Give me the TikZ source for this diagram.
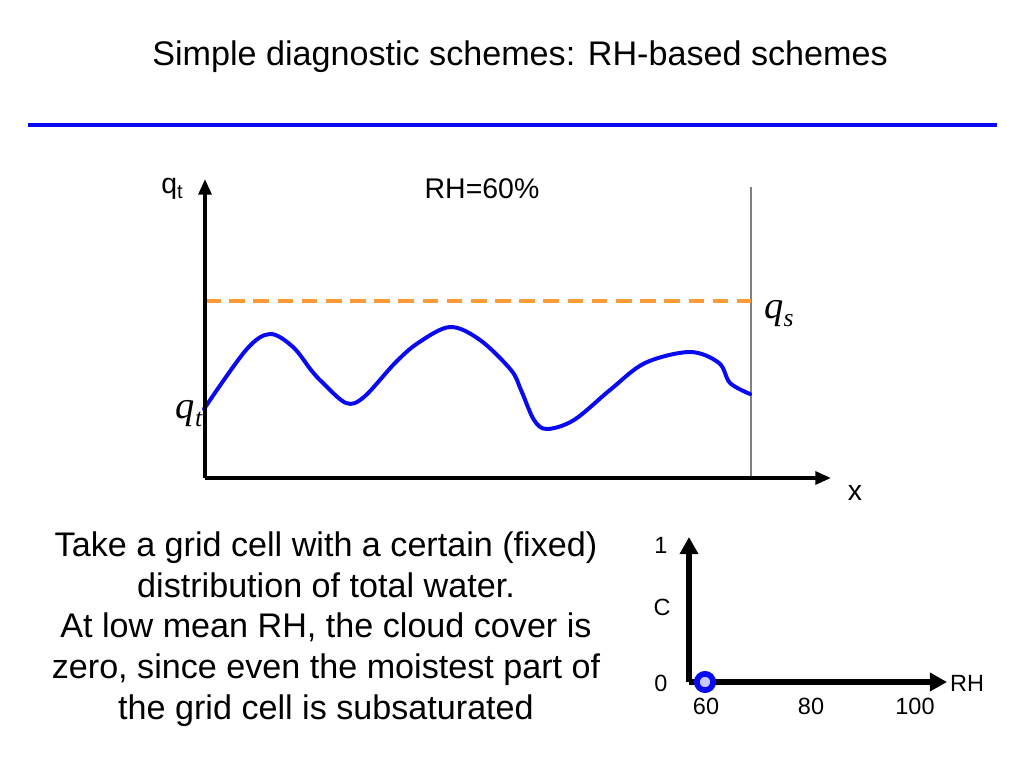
\documentclass[tikz,border=0pt]{standalone}
\usepackage{fontspec}
\setmainfont{Liberation Sans}
\newfontfamily\qfont{Liberation Serif}
\usetikzlibrary{arrows.meta}
\definecolor{slideblue}{RGB}{10,10,240}
\definecolor{satorange}{RGB}{250,155,55}
\definecolor{dotfill}{RGB}{200,200,250}

\begin{document}
\begin{tikzpicture}
        [
            x=0.703125pt, y=-0.703125pt,
            axis/.style={line width=2.5pt, -{Triangle[length=11pt, width=9pt]}},
            small axis/.style={line width=3.6pt, -{Triangle[length=12pt, width=12.5pt]}},
            label/.style={inner sep=0pt, font=\fontsize{20}{24}\selectfont},
            ticklabel/.style={inner sep=0pt, font=\fontsize{16.5}{19}\selectfont},
            qlabel/.style={inner sep=0pt, font=\fontsize{27}{32}\qfont\itshape},
        ]
        \useasboundingbox (0,0) rectangle (1024,768);
        % title and rule
        \node[font=\fontsize{24}{29}\selectfont] (title) at (520,57) {Simple diagnostic schemes: RH-based schemes};
        \coordinate (rule west) at (28,125);
        \coordinate (rule east) at (997,125);
        \draw[line width=2.9pt, slideblue] (rule west) -- (rule east);
        % distribution of total water
        \coordinate (origin) at (205,478);
        \coordinate (qt tip) at (205,179);
        \coordinate (x tip) at (831,478);
        \coordinate (edge top) at (751,187);
        \coordinate (edge bottom) at (751,478);
        \coordinate (qs west) at (205,301);
        \coordinate (qs east) at (751,301);
        \draw[gray, line width=0.8pt] (edge top) -- (edge bottom);
        \draw[satorange, line width=2.4pt, dash pattern=on 11pt off 6pt] (qs west) -- (qs east);
        \draw[slideblue, line width=2.8pt, line cap=round] plot[smooth, tension=0.55] coordinates {
            (204,409) (246,350) (270,334) (293,347) (311,370) (322,382)
            (346,403) (364,397) (395,363) (418,343) (450,327) (480,340)
            (511,370) (521,390) (534,420) (547,429) (574,420) (610,390)
            (645,363) (690,352) (719,363) (730,383) (750,394)
        };
        \draw[axis] (origin) -- (qt tip);
        \draw[axis] (origin) -- (x tip);
        \node[label] (qt axis) at (172,189) {q\raisebox{-0.35ex}{\fontsize{14}{16}\selectfont t}};
        \node[label] (rh) at (482,189) {RH=60\%};
        \node[label] (x label) at (855,493) {x};
        \node[qlabel] (qs) at (779,314) {q\raisebox{-0.4ex}{\fontsize{18}{20}\selectfont s}};
        \node[qlabel] (qt) at (189,414) {q\raisebox{-0.4ex}{\fontsize{18}{20}\selectfont t}};
        % explanation
        \node[align=center, inner sep=0pt, font=\fontsize{24}{28.6}\selectfont] (text) at (326,629)
            {Take a grid cell with a certain (fixed)\\
             distribution of total water.\\
             At low mean RH, the cloud cover is\\
             zero, since even the moistest part of\\
             the grid cell is subsaturated};
        % cloud cover against RH
        \coordinate (c origin) at (689,682);
        \coordinate (c tip) at (689,537);
        \coordinate (rh tip) at (947,682);
        \draw[small axis] (c origin) -- (c tip);
        \draw[small axis] (c origin) -- (rh tip);
        \node[ticklabel] (one) at (661,545) {1};
        \node[ticklabel] (c label) at (662,607) {C};
        \node[ticklabel] (zero) at (661,683) {0};
        \node[ticklabel] (rh label) at (967,683) {RH};
        \node[ticklabel] (sixty) at (706,706) {60};
        \node[ticklabel] (eighty) at (811,706) {80};
        \node[ticklabel] (hundred) at (915,706) {100};
        \node[circle, draw=slideblue, fill=dotfill, line width=4pt, minimum size=11.5pt, inner sep=0pt] (state) at (705,682) {};
\end{tikzpicture}
\end{document}
